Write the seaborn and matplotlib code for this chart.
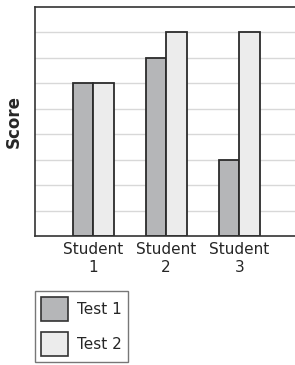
import pandas as pd
import matplotlib
matplotlib.use('Agg')
import matplotlib.pyplot as plt
import seaborn as sns

# 학생별 점수
students = ['Student\n1', 'Student\n2', 'Student\n3']
test1 = [6, 7, 3]
test2 = [6, 8, 8]
tests = ['Test 1', 'Test 2']
colors = ['#b5b6b8', '#ececec']

df = pd.DataFrame({
    'Student': students * 2,
    'Test': [tests[0]] * 3 + [tests[1]] * 3,
    'Score': test1 + test2,
})

sns.set_style('white')
plt.rcParams['font.family'] = ['DejaVu Sans']

fig = plt.figure(figsize=(2.95, 3.65), dpi=100)
ax = fig.add_axes([35 / 295, 1 - 236 / 365, 270 / 295, 229 / 365])

sns.barplot(data=df, x='Student', y='Score', hue='Test', palette=colors,
            width=0.56, edgecolor='#2b2b2b', linewidth=1.3, saturation=1,
            ax=ax, legend=True)

ax.set_ylim(0, 9)
ax.set_xlim(-0.795, 2.9)
ax.set_yticks(range(1, 9))
ax.set_yticklabels([])
ax.yaxis.grid(True, color='#d8d8d8', linewidth=1)
ax.set_axisbelow(True)
ax.tick_params(axis='both', length=0)
ax.tick_params(axis='x', labelsize=11, pad=4)
for t in ax.get_xticklabels():
    t.set_linespacing(1.25)
ax.set_xlabel('')
ax.set_ylabel('Score', fontsize=12, fontweight='bold', labelpad=5)
for s in ax.spines.values():
    s.set_color('#333333')
    s.set_linewidth(1.2)

ax.get_legend().remove()
handles = [plt.Rectangle((0, 0), 1, 1, facecolor=c, edgecolor='#333333', linewidth=1.2) for c in colors]
leg = fig.legend(handles, tests, loc='upper left', bbox_to_anchor=(35 / 295, 1 - 291 / 365),
                 fontsize=11, frameon=True, fancybox=False, handlelength=1.75, handleheight=2.0,
                 borderpad=0.4, labelspacing=0.75, handletextpad=0.6, borderaxespad=0)
leg.get_frame().set_edgecolor('#555555')
leg.get_frame().set_linewidth(1)

plt.savefig('out.png', dpi=100)
